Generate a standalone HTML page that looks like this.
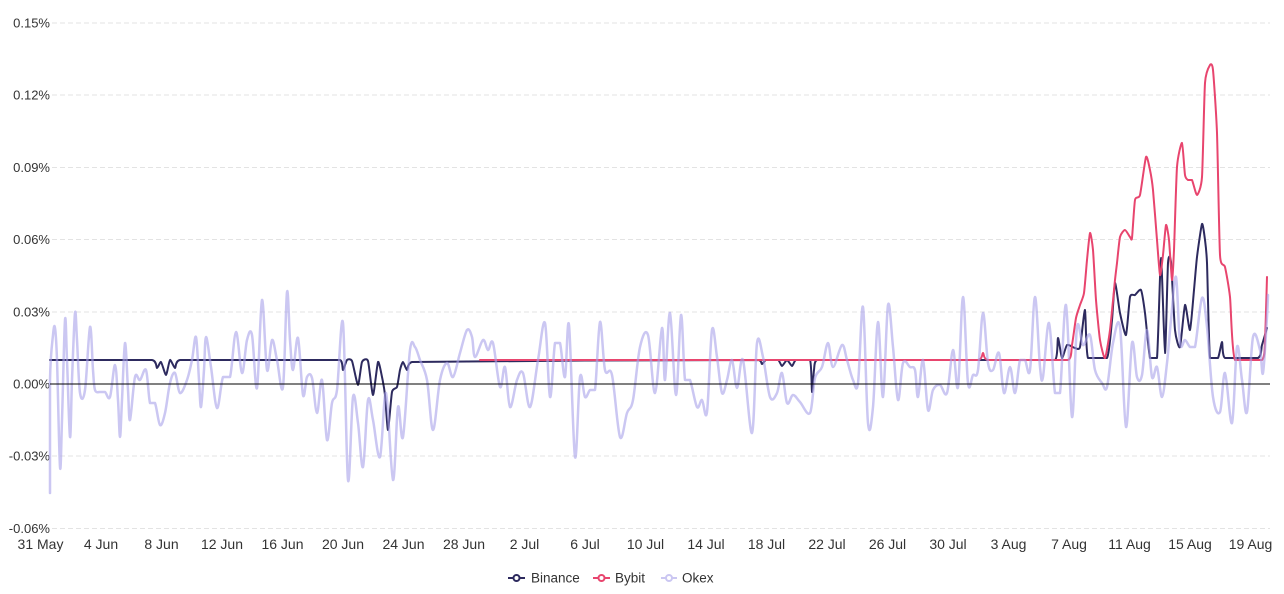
<!DOCTYPE html>
<html>
<head>
<meta charset="utf-8">
<style>
  html,body{margin:0;padding:0;background:#fff;}
  svg{display:block;}
  text{font-family:"Liberation Sans",sans-serif;fill:#333;}
</style>
</head>
<body>
<svg id="chart" width="1284" height="594" viewBox="0 0 1284 594" xmlns="http://www.w3.org/2000/svg">
  <!-- grid -->
  <g stroke="#e3e3e3" stroke-width="1" stroke-dasharray="5,3" fill="none">
    <line x1="52" y1="23" x2="1270" y2="23"/>
    <line x1="52" y1="95" x2="1270" y2="95"/>
    <line x1="52" y1="167.5" x2="1270" y2="167.5"/>
    <line x1="52" y1="239.5" x2="1270" y2="239.5"/>
    <line x1="52" y1="312" x2="1270" y2="312"/>
    <line x1="52" y1="456" x2="1270" y2="456"/>
    <line x1="52" y1="528.5" x2="1270" y2="528.5"/>
  </g>
  <!-- y labels -->
  <g font-size="13" text-anchor="end">
    <text x="50" y="27.5">0.15%</text>
    <text x="50" y="99.5">0.12%</text>
    <text x="50" y="172">0.09%</text>
    <text x="50" y="244">0.06%</text>
    <text x="50" y="316.5">0.03%</text>
    <text x="50" y="388.5">0.00%</text>
    <text x="50" y="460.5">-0.03%</text>
    <text x="50" y="533">-0.06%</text>
  </g>
  <!-- x labels -->
  <g font-size="14" text-anchor="middle">
    <text x="40.5" y="549">31 May</text>
    <text x="101" y="549">4 Jun</text>
    <text x="161.5" y="549">8 Jun</text>
    <text x="222" y="549">12 Jun</text>
    <text x="282.5" y="549">16 Jun</text>
    <text x="343" y="549">20 Jun</text>
    <text x="403.5" y="549">24 Jun</text>
    <text x="464" y="549">28 Jun</text>
    <text x="524.5" y="549">2 Jul</text>
    <text x="585" y="549">6 Jul</text>
    <text x="645.5" y="549">10 Jul</text>
    <text x="706" y="549">14 Jul</text>
    <text x="766.5" y="549">18 Jul</text>
    <text x="827" y="549">22 Jul</text>
    <text x="887.5" y="549">26 Jul</text>
    <text x="948" y="549">30 Jul</text>
    <text x="1008.5" y="549">3 Aug</text>
    <text x="1069" y="549">7 Aug</text>
    <text x="1129.5" y="549">11 Aug</text>
    <text x="1190" y="549">15 Aug</text>
    <text x="1250.5" y="549">19 Aug</text>
  </g>

  <!-- Binance -->
  <polyline class="sm" data-t="0.6" fill="none" stroke="#2d2a5e" stroke-width="2" stroke-linejoin="round" stroke-linecap="round"
    points="50,360 152,360 157,368 161,362 166,375 170,360 175,368 180,360 340,360 343,370 347,360 352,361 358,385 362,362 368,361 373,395 378,362 382,377 385,395 388,430 392,392 397,387 400,370 403,362 407,370 412,362 758,360 762,364 766,360 778,360 782,366 787,360 792,366 796,360 810,360 812,392 814,370 817,360 1055,360 1058,338 1062,358 1067,345 1075,348 1080,347 1085,310 1088,358 1107,358 1112,320 1115,283 1120,313 1126,335 1130,297 1135,295 1141,290 1145,313 1150,358 1157,358 1161,258 1165,353 1168,263 1171,262 1175,330 1180,347 1185,305 1190,330 1194,290 1197,257 1202,224 1205,240 1207,263 1210,358 1218,358 1222,342 1225,358 1258,358 1262,345 1267,328"/>

  <!-- Bybit -->
  <polyline class="sm" data-t="0.6" fill="none" stroke="#e8456e" stroke-width="2" stroke-linejoin="round" stroke-linecap="round"
    points="480,360 978,360 983,353 988,360 1068,360 1072,345 1076,318 1080,305 1084,293 1087,260 1090,233 1093,250 1096,300 1100,340 1105,358 1110,330 1115,280 1117,263 1120,237 1125,230 1130,237 1132,238 1135,200 1140,195 1146,157 1150,170 1153,190 1157,240 1160,275 1163,255 1166,225 1169,240 1172,280 1174,250 1177,167 1182,143 1185,175 1188,180 1192,180 1197,195 1202,177 1205,83 1210,65 1213,70 1217,133 1220,255 1225,267 1230,297 1235,360 1262,360 1265,340 1267,277"/>

  <!-- Okex -->
  <polyline class="sm" data-t="1" fill="none" stroke="#a9a1ea" stroke-opacity="0.6" stroke-width="2.5" stroke-linejoin="round" stroke-linecap="round"
    points="50,493 50,380 53,335 55,328 57,360 60,467 62,420 65,320 67,360 70,437 72,380 75,313 77,340 80,393 85,390 90,327 93,370 95,390 100,392 105,392 110,397 115,365 118,400 120,437 122,400 125,343 128,390 130,420 135,377 140,380 146,370 150,403 155,403 160,425 165,413 170,383 175,373 180,393 187,380 192,360 196,337 199,380 201,407 204,370 206,337 211,367 217,408 223,377 230,377 236,332 242,373 247,340 252,335 257,388 262,300 267,370 272,340 277,360 283,387 287,292 290,340 293,370 298,338 303,395 307,377 312,378 317,413 322,380 327,440 332,403 337,390 343,323 348,480 353,397 358,423 363,467 368,400 373,420 380,457 386,393 393,480 398,407 403,437 410,350 415,347 420,360 427,380 433,430 440,380 447,363 453,377 460,353 467,330 472,337 475,357 483,340 488,350 493,343 500,387 505,367 510,407 517,380 523,373 530,407 538,360 545,323 550,397 555,343 560,343 565,377 569,325 575,457 580,377 585,397 590,390 595,390 600,322 605,370 612,375 620,437 627,413 633,400 640,347 648,335 655,393 662,328 665,380 670,313 676,395 681,315 685,380 690,380 697,407 702,400 707,412 712,330 717,357 722,393 727,380 732,360 737,388 743,360 752,433 757,343 763,357 770,397 777,393 782,373 787,403 793,395 800,402 810,413 815,378 822,367 828,343 833,367 842,345 847,360 853,380 858,383 863,307 868,423 873,407 878,322 883,397 888,305 893,347 898,400 903,363 910,367 915,370 918,397 923,360 928,410 933,390 940,385 947,393 953,350 958,387 963,297 968,383 973,375 978,370 983,313 988,363 993,370 999,353 1004,393 1010,367 1015,393 1020,360 1025,360 1030,370 1035,297 1040,367 1043,377 1049,323 1055,393 1060,393 1066,305 1072,417 1077,327 1083,345 1090,335 1095,370 1102,383 1107,387 1113,343 1120,327 1126,427 1132,343 1137,377 1142,375 1147,330 1152,377 1157,367 1162,397 1167,363 1171,320 1176,277 1180,343 1185,340 1190,347 1195,347 1202,298 1207,327 1213,397 1220,412 1225,373 1232,423 1237,347 1242,380 1247,412 1253,337 1260,350 1263,373 1267,317 1268,295"/>

  <!-- zero line -->
  <line x1="50" y1="384" x2="1270" y2="384" stroke="#000" stroke-width="1"/>

  <!-- legend -->
  <g>
    <line x1="508" y1="578" x2="525" y2="578" stroke="#2d2a5e" stroke-width="2"/>
    <circle cx="516.5" cy="578" r="3" fill="#fff" stroke="#2d2a5e" stroke-width="2"/>
    <text x="531" y="582.5" font-size="13.5">Binance</text>

    <line x1="593" y1="578" x2="610" y2="578" stroke="#e8456e" stroke-width="2"/>
    <circle cx="601.5" cy="578" r="3" fill="#fff" stroke="#e8456e" stroke-width="2"/>
    <text x="615" y="582.5" font-size="13.5">Bybit</text>

    <line x1="661" y1="578" x2="677" y2="578" stroke="#cbc7f2" stroke-width="2"/>
    <circle cx="669" cy="578" r="3" fill="#fff" stroke="#cbc7f2" stroke-width="2"/>
    <text x="682" y="582.5" font-size="13.5">Okex</text>
  </g>
</svg>
<script>
(function(){
  var NS="http://www.w3.org/2000/svg";
  var pls=document.querySelectorAll("polyline.sm");
  for(var k=0;k<pls.length;k++){
    var pl=pls[k];
    var t=parseFloat(pl.getAttribute("data-t"))||1;
    var raw=pl.getAttribute("points").trim().split(/\s+/);
    var p=[];
    for(var i=0;i<raw.length;i++){var c=raw[i].split(",");p.push([+c[0],+c[1]]);}
    var d="M"+p[0][0]+","+p[0][1];
    for(var i=0;i<p.length-1;i++){
      var p0=p[i>0?i-1:i],p1=p[i],p2=p[i+1],p3=p[i+2<p.length?i+2:i+1];
      var f=t/6;
      var c1x=p1[0]+(p2[0]-p0[0])*f, c1y=p1[1]+(p2[1]-p0[1])*f;
      var c2x=p2[0]-(p3[0]-p1[0])*f, c2y=p2[1]-(p3[1]-p1[1])*f;
      // keep control x within segment to avoid loops
      if(c1x>p2[0])c1x=p2[0]; if(c1x<p1[0])c1x=p1[0];
      if(c2x<p1[0])c2x=p1[0]; if(c2x>p2[0])c2x=p2[0];
      // flat segments stay flat
      if(p1[1]===p2[1]){c1y=p1[1];c2y=p2[1];}
      d+=" C"+c1x.toFixed(2)+","+c1y.toFixed(2)+" "+c2x.toFixed(2)+","+c2y.toFixed(2)+" "+p2[0]+","+p2[1];
    }
    var path=document.createElementNS(NS,"path");
    path.setAttribute("d",d);
    var attrs=["fill","stroke","stroke-width","stroke-opacity","stroke-linejoin","stroke-linecap"];
    for(var j=0;j<attrs.length;j++){var v=pl.getAttribute(attrs[j]);if(v!==null)path.setAttribute(attrs[j],v);}
    pl.parentNode.replaceChild(path,pl);
  }
})();
</script>
</body>
</html>
